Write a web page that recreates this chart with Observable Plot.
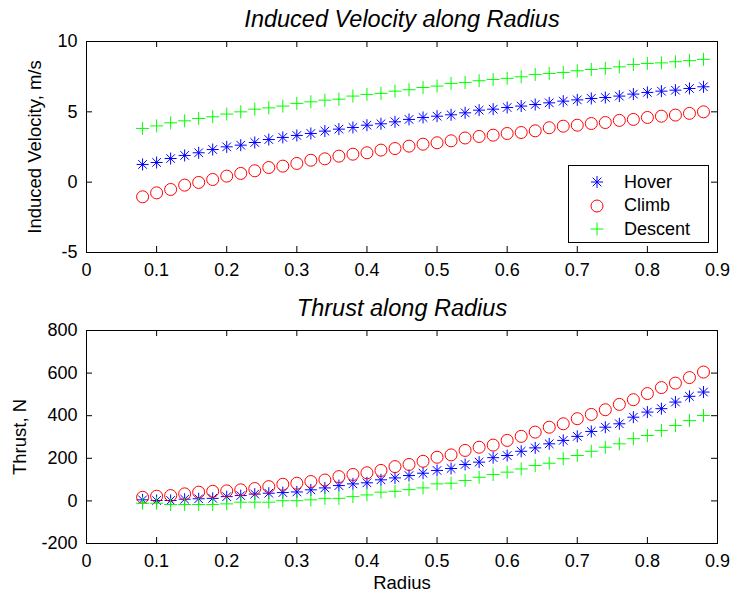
<!DOCTYPE html>
<html><head><meta charset="utf-8">
<script src="https://cdn.jsdelivr.net/npm/d3@7"></script>
<script src="https://cdn.jsdelivr.net/npm/@observablehq/plot@0.6"></script>
<style>
body{margin:0;background:#fff;}
#chart{position:relative;width:731px;height:596px;font-family:"Liberation Sans",Arial,sans-serif;color:#000;}
#chart svg{display:block;background:#fff;}
#legend{position:absolute;left:568px;top:165px;width:139px;height:76px;border:1px solid #000;background:#fff;font-size:18px;}
#legend .row{position:absolute;left:0;height:22px;display:flex;align-items:center;}
#legend .row svg{background:none;}
</style></head><body><div id="chart"></div>
<script>
const radius = [0.08,0.10,0.12,0.14,0.16,0.18,0.20,0.22,0.24,0.26,0.28,0.30,0.32,0.34,0.36,0.38,0.40,0.42,0.44,0.46,0.48,0.50,0.52,0.54,0.56,0.58,0.60,0.62,0.64,0.66,0.68,0.70,0.72,0.74,0.76,0.78,0.80,0.82,0.84,0.86,0.88];
const hoverVel = [1.26,1.40,1.68,1.90,2.09,2.32,2.51,2.63,2.82,3.03,3.18,3.32,3.46,3.63,3.77,3.89,4.05,4.15,4.29,4.46,4.60,4.69,4.79,4.93,5.12,5.19,5.31,5.41,5.52,5.64,5.76,5.85,5.95,6.02,6.12,6.26,6.38,6.47,6.54,6.66,6.78];
const climbVel = [-1.04,-0.76,-0.52,-0.21,-0.02,0.19,0.43,0.62,0.81,1.04,1.14,1.33,1.56,1.66,1.85,1.99,2.09,2.28,2.39,2.56,2.70,2.80,2.94,3.14,3.25,3.34,3.46,3.53,3.65,3.87,3.98,4.05,4.17,4.24,4.39,4.46,4.60,4.69,4.77,4.89,5.00];
const descentVel = [3.82,4.00,4.22,4.36,4.53,4.65,4.84,5.00,5.19,5.28,5.41,5.60,5.71,5.83,5.90,6.12,6.24,6.31,6.47,6.57,6.73,6.83,7.02,7.09,7.21,7.30,7.38,7.49,7.66,7.73,7.80,7.92,8.01,8.09,8.20,8.37,8.44,8.48,8.56,8.64,8.73];
const hoverThrust = [5,2,2,8,10,12,20,25,32,36,39,42,52,61,72,80,85,99,108,119,130,143,152,171,182,203,213,233,249,268,284,303,326,346,362,393,417,433,464,491,511];
const climbThrust = [17,22,25,33,41,45,47,52,58,67,78,83,91,98,114,124,132,143,161,171,186,205,216,237,252,262,284,303,323,346,362,386,406,428,453,475,504,532,553,579,605];
const descentThrust = [-11,-11,-17,-17,-17,-17,-14,-6,-6,-6,1,1,5,12,12,20,28,41,45,53,61,80,83,96,111,124,135,150,166,177,198,213,233,252,268,292,307,331,354,377,401];
const seriesNames = ["Hover","Climb","Descent"];
const seriesColors = ["#0000ff","#ff0000","#00ff00"];
const xTicks = [0,0.1,0.2,0.3,0.4,0.5,0.6,0.7,0.8,0.9];
const velTicks = [-5,0,5,10];
const thrustTicks = [-200,0,200,400,600,800];

// MATLAB-like marker symbols
const starSym = {draw(c){const a=6,b=4.3;c.moveTo(-a,0);c.lineTo(a,0);c.moveTo(0,-a);c.lineTo(0,a);c.moveTo(-b,-b);c.lineTo(b,b);c.moveTo(-b,b);c.lineTo(b,-b);}};
const circSym = {draw(c){const r=6;c.moveTo(r,0);c.arc(0,0,r,0,2*Math.PI);c.closePath();}};
const plusSym = {draw(c){const a=6.5;c.moveTo(-a,0);c.lineTo(a,0);c.moveTo(0,-a);c.lineTo(0,a);}};
const symbols = [starSym, circSym, plusSym];

const font = '"Liberation Sans",Arial,sans-serif';

function panel({values, yDomain, yTicks, title, ylabel, ylabelDx, height, marginTop, marginBottom, xlabel}) {
  const rows = [];
  values.forEach((arr, s) => arr.forEach((v, i) => rows.push({x: radius[i], y: v, s})));
  const innerH = height - marginTop - marginBottom;
  const marks = [
    Plot.frame({stroke: "#000"}),
    Plot.ruleX(xTicks, {stroke: "#000", insetTop: innerH - 6}),
    Plot.ruleX(xTicks, {stroke: "#000", insetBottom: innerH - 6}),
    Plot.ruleY(yTicks, {stroke: "#000", insetRight: 631 - 6}),
    Plot.ruleY(yTicks, {stroke: "#000", insetLeft: 631 - 6}),
    Plot.axisX({ticks: xTicks, tickSize: 0, tickPadding: 11, tickFormat: d => String(d), fontSize: 18, label: null}),
    Plot.axisY({ticks: yTicks, tickSize: 0, tickPadding: 9, tickFormat: d => String(d), fontSize: 18, label: null}),
    ...values.map((arr, s) => Plot.dot(rows.filter(r => r.s === s), {x: "x", y: "y", symbol: () => symbols[s], r: 6, fill: "none", stroke: seriesColors[s], strokeWidth: 1})),
    Plot.text([title], {frameAnchor: "top", textAnchor: "middle", lineAnchor: "middle", dy: -22, fontSize: 23.5, fontStyle: "italic"}),
    Plot.text([ylabel], {frameAnchor: "left", textAnchor: "middle", lineAnchor: "middle", rotate: -90, dx: ylabelDx, fontSize: 18.5})
  ];
  if (xlabel) marks.push(Plot.text([xlabel], {frameAnchor: "bottom", textAnchor: "middle", lineAnchor: "middle", dy: 40, fontSize: 18.5}));
  return Plot.plot({
    width: 731, height, marginLeft: 86, marginRight: 14, marginTop, marginBottom,
    style: {fontFamily: font, background: "#fff", color: "#000"},
    x: {domain: [0, 0.9]},
    y: {domain: yDomain},
    symbol: {type: "identity"},
    marks
  });
}

const chart = document.getElementById("chart");
chart.appendChild(panel({values: [hoverVel, climbVel, descentVel], yDomain: [-5, 10], yTicks: velTicks,
  title: "Induced Velocity along Radius", ylabel: "Induced Velocity, m/s", ylabelDx: -51,
  height: 290, marginTop: 41, marginBottom: 38}));
chart.appendChild(panel({values: [hoverThrust, climbThrust, descentThrust], yDomain: [-200, 800], yTicks: thrustTicks,
  title: "Thrust along Radius", ylabel: "Thrust, N", ylabelDx: -66,
  height: 306, marginTop: 40, marginBottom: 53, xlabel: "Radius"}));

// legend
const legend = document.createElement("div");
legend.id = "legend";
seriesNames.forEach((name, s) => {
  const row = document.createElement("div");
  row.className = "row";
  row.style.top = (5 + s * 23.5) + "px";
  const p = d3.path(); symbols[s].draw(p);
  row.innerHTML = `<svg width="16" height="16" viewBox="-8 -8 16 16" style="margin-left:20px"><path d="${p}" fill="none" stroke="${seriesColors[s]}"/></svg><span style="margin-left:19px">${name}</span>`;
  legend.appendChild(row);
});
chart.appendChild(legend);
</script></body></html>
